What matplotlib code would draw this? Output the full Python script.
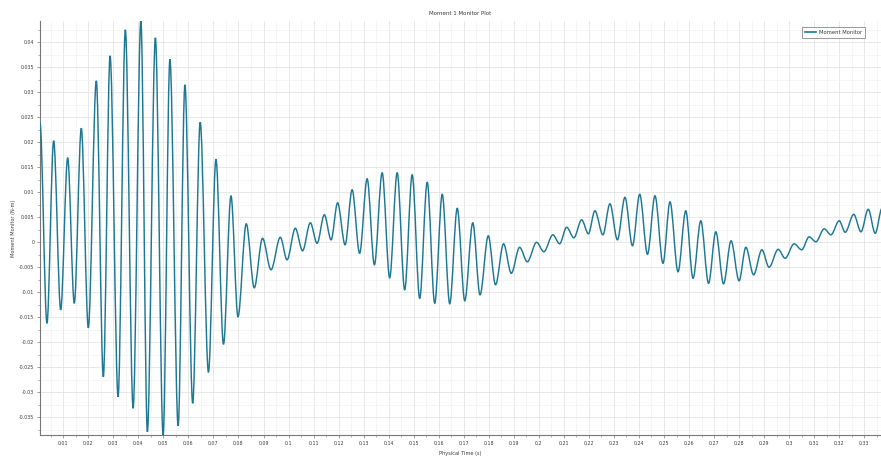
import matplotlib
matplotlib.use("Agg")
import numpy as np
import matplotlib.pyplot as plt
from matplotlib.path import Path
from matplotlib.patches import PathPatch
from matplotlib.lines import Line2D
from matplotlib.ticker import MultipleLocator, FuncFormatter

# extrema of the monitor signal (time in s, moment in N-m)
time_s = [
    0.0007, 0.00348, 0.00616, 0.00896, 0.01176, 0.0144, 0.0172, 0.0200,
    0.0232, 0.0260, 0.0287, 0.0319, 0.0348, 0.0379, 0.0410, 0.0436,
    0.0468, 0.0499, 0.0526, 0.0559, 0.0586, 0.0617, 0.0647, 0.0680,
    0.0710, 0.0740, 0.0770, 0.0798, 0.0831, 0.0863, 0.0896, 0.0930,
    0.0967, 0.0994, 0.1027, 0.1056, 0.1087, 0.1114, 0.1143, 0.1170,
    0.1196, 0.1226, 0.1254, 0.1284, 0.1314, 0.1343, 0.1374, 0.1404,
    0.1434, 0.1464, 0.1494, 0.1524, 0.1554, 0.1584, 0.1614, 0.1644,
    0.1674, 0.1704, 0.1736, 0.1765, 0.1798, 0.1827, 0.1859, 0.1890,
    0.1923, 0.1954, 0.1991, 0.2020, 0.2056, 0.2083, 0.2111, 0.2140,
    0.2171, 0.2198, 0.2224, 0.2256, 0.2284, 0.2314, 0.2344, 0.2374,
    0.2403, 0.2434, 0.2464, 0.2496, 0.2524, 0.2556, 0.2587, 0.2616,
    0.2647, 0.2678, 0.2707, 0.2738, 0.2768, 0.2800, 0.2827, 0.2858,
    0.2891, 0.2920, 0.2956, 0.2984, 0.3020, 0.3050, 0.3080, 0.3107,
    0.3140, 0.3167, 0.3200, 0.3224, 0.3258, 0.3287, 0.3316, 0.3344,
    0.3371,
]
moment_nm = [
    0.0238, -0.0162, 0.0203, -0.0135, 0.0169, -0.0122, 0.0228, -0.0171,
    0.0323, -0.0269, 0.0373, -0.0309, 0.0425, -0.0332, 0.0443, -0.0379,
    0.0409, -0.0387, 0.0366, -0.0367, 0.0315, -0.0322, 0.0240, -0.0260,
    0.0166, -0.0204, 0.0093, -0.0149, 0.0037, -0.0091, 0.0008, -0.0055,
    0.0010, -0.0035, 0.0028, -0.0017, 0.0039, -0.0002, 0.0055, 0.0005,
    0.0079, -0.0005, 0.0105, -0.0022, 0.0127, -0.0045, 0.0139, -0.0071,
    0.0139, -0.0095, 0.0135, -0.0112, 0.0120, -0.0122, 0.0096, -0.0123,
    0.0068, -0.0117, 0.0039, -0.0105, 0.0013, -0.0085, -0.0003, -0.0062,
    -0.0010, -0.0039, 0.0000, -0.0019, 0.0015, -0.0003, 0.0030, 0.0009,
    0.0045, 0.0017, 0.0063, 0.0015, 0.0077, 0.0005, 0.0090, -0.0007,
    0.0096, -0.0024, 0.0093, -0.0042, 0.0081, -0.0059, 0.0063, -0.0072,
    0.0043, -0.0082, 0.0021, -0.0083, 0.0003, -0.0077, -0.0010, -0.0065,
    -0.0015, -0.0050, -0.0014, -0.0032, -0.0003, -0.0015, 0.0011, 0.0001,
    0.0027, 0.0015, 0.0043, 0.0020, 0.0056, 0.0021, 0.0066, 0.0018,
    0.0068,
]

LINE = "#1d7894"
TXT = "#3a3a3a"

fig = plt.figure(figsize=(8.81, 4.59), dpi=100)
ax = fig.add_axes([40 / 881, 24 / 459, 841 / 881, 414 / 459])

# smooth curve through the extrema (flat tangent at each peak / trough)
verts = [(time_s[0], moment_nm[0])]
codes = [Path.MOVETO]
for i in range(1, len(time_s)):
    t0, t1 = time_s[i - 1], time_s[i]
    v0, v1 = moment_nm[i - 1], moment_nm[i]
    dt = t1 - t0
    verts += [(t0 + dt / 3, v0), (t1 - dt / 3, v1), (t1, v1)]
    codes += [Path.CURVE4] * 3
ax.add_patch(PathPatch(Path(verts, codes), fill=False, edgecolor=LINE,
                       lw=1.05, zorder=3))

ax.set_xlim(0.0007, 0.3367)
ax.set_ylim(-0.03854, 0.04426)

ax.xaxis.set_major_locator(MultipleLocator(0.01))
ax.xaxis.set_minor_locator(MultipleLocator(0.005))
ax.yaxis.set_major_locator(MultipleLocator(0.005))
ax.yaxis.set_minor_locator(MultipleLocator(0.0025))


def fmt(v, pos):
    v = round(v, 4)
    return "0" if abs(v) < 1e-9 else f"{v:g}"


ax.xaxis.set_major_formatter(FuncFormatter(fmt))
ax.yaxis.set_major_formatter(FuncFormatter(fmt))

ax.grid(True, which="major", color="#e4e4e4", lw=0.6, zorder=0)
ax.grid(True, which="minor", color="#f2f2f2", lw=0.5, zorder=0)
ax.set_axisbelow(True)

ax.tick_params(which="major", direction="out", length=2, width=0.5,
               color="#777777", labelsize=3.4, labelcolor=TXT, pad=2)
ax.tick_params(which="minor", direction="out", length=1.2, width=0.4,
               color="#777777")

for side in ("top", "right"):
    ax.spines[side].set_visible(False)
for side in ("left", "bottom"):
    ax.spines[side].set_color("#777777")
    ax.spines[side].set_linewidth(0.8)

ax.set_xlabel("Physical Time (s)", fontsize=3.6, color=TXT, labelpad=4)
ax.set_ylabel("Moment Monitor (N-m)", fontsize=3.6, color=TXT, labelpad=2)
ax.set_title("Moment 1 Monitor Plot", fontsize=4, color=TXT, pad=4.5)

handle = Line2D([], [], color=LINE, lw=1.2)
leg = ax.legend([handle], ["Moment Monitor"], loc="upper right",
                bbox_to_anchor=(0.981, 0.9855), borderaxespad=0,
                fontsize=3.8, fancybox=False, framealpha=1,
                edgecolor="#888888", handlelength=2.2, handletextpad=0.4,
                borderpad=0.6)
leg.get_frame().set_linewidth(0.6)
for t in leg.get_texts():
    t.set_color(TXT)

fig.savefig("out.png", dpi=100)
